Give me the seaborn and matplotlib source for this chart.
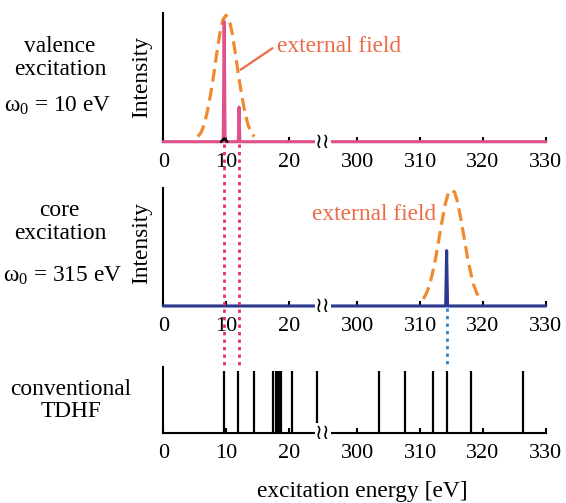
import numpy as np
import matplotlib
matplotlib.use('Agg')
import matplotlib.pyplot as plt
import seaborn as sns
from matplotlib.lines import Line2D
from matplotlib.transforms import blended_transform_factory

# ---------------- data (energies in eV) ----------------
tick_values = [0, 10, 20, 300, 310, 320, 330]
tick_labels = ['0', '10', '20', '300', '310', '320', '330']

# valence excitation spectrum (pink)
valence_x = [0, 9.55, 9.7, 9.85, 11.95, 12.07, 12.2, 330]
valence_y = [0, 0, 0.935, 0, 0, 0.27, 0, 0]
# small black bump under the main valence peak
bump_x = [9.2, 9.7, 10.2]
bump_y = [0, 0.025, 0]
# external field (valence), dashed orange
field1_x = [5.5, 6.0, 6.5, 7.0, 7.5, 8.0, 8.5, 9.0, 9.5, 10.0, 10.5, 11.0,
            11.5, 12.0, 12.5, 13.0, 13.5, 14.0, 14.5]
field1_y = [0.04, 0.07, 0.13, 0.23, 0.36, 0.51, 0.68, 0.84, 0.95, 0.985, 0.95,
            0.84, 0.68, 0.51, 0.36, 0.23, 0.13, 0.07, 0.04]

# core excitation spectrum (blue)
core_x = [0, 314.05, 314.2, 314.35, 330]
core_y = [0, 0, 0.47, 0, 0]
# external field (core), dashed orange
field2_x = [310.5, 311.0, 311.5, 312.0, 312.5, 313.0, 313.5, 314.0, 314.5, 315.0,
            315.5, 316.0, 316.5, 317.0, 317.5, 318.0, 318.5, 319.0, 319.5]
field2_y = [0.06, 0.11, 0.18, 0.29, 0.42, 0.575, 0.73, 0.87, 0.965, 0.985,
            0.965, 0.87, 0.73, 0.575, 0.42, 0.29, 0.18, 0.11, 0.06]

# conventional TDHF excitation energies
tdhf_x = [9.68, 11.96, 14.47, 17.5, 17.93, 18.25, 18.53, 18.7, 20.5, 24.47,
          303.4, 307.5, 312.1, 314.2, 318.1, 326.3]
tdhf_h = [0.94] * len(tdhf_x)

# guide lines
pink_guides = [9.7, 12.07]
blue_guides = [314.2]

# ---------------- style ----------------
sns.set_theme(style='white')
SERIF = ['Liberation Serif', 'DejaVu Serif']
plt.rcParams['font.family'] = SERIF
plt.rcParams['mathtext.fontset'] = 'custom'
plt.rcParams['mathtext.rm'] = 'Liberation Serif'
plt.rcParams['mathtext.it'] = 'Liberation Serif:italic'

PINK = '#e0508a'
ORANGE = '#f08a2e'
TXT = '#ee6a48'
NAVY = '#2b3990'
DOTPINK = '#e2306a'
DOTBLUE = '#2a86d0'


def fwd(x):
    x = np.asarray(x, dtype=float)
    return np.where(x <= 25, x,
                    np.where(x >= 295, x - 269.06, 25 + (x - 25) * 0.94 / 270))


def inv(y):
    y = np.asarray(y, dtype=float)
    return np.where(y <= 25, y,
                    np.where(y >= 25.94, y + 269.06, 25 + (y - 25) * 270 / 0.94))


fig = plt.figure(figsize=(5.66, 5.03), dpi=100)
ax1 = fig.add_axes([0.2885, 0.7183, 0.6758, 0.2553])
ax2 = fig.add_axes([0.2885, 0.3917, 0.6758, 0.2340])
ax3 = fig.add_axes([0.2885, 0.1386, 0.6758, 0.1324])

for ax in (ax1, ax2, ax3):
    ax.set_xscale('function', functions=(fwd, inv))
    ax.set_xlim(0, 330)
    ax.set_ylim(0, 1)
    ax.set_xticks(tick_values)
    ax.set_xticklabels(tick_labels, fontfamily=SERIF, fontsize=16,
                       color='black')
    ax.set_yticks([])
    for s in ('top', 'right'):
        ax.spines[s].set_visible(False)
    for s in ('left', 'bottom'):
        ax.spines[s].set_color('black')
        ax.spines[s].set_linewidth(1.5)
    ax.tick_params(axis='x', direction='in', length=3.6, width=1.5,
                   colors='black', pad=8, bottom=True)
    ax.set_facecolor('none')
    # axis break marker
    ax.text(25.47 / 61, 0, '\u2240\u2240', transform=ax.transAxes,
            ha='center', va='center', fontsize=15, family='DejaVu Sans',
            color='black', zorder=10,
            bbox=dict(boxstyle='square,pad=0.0', fc='white', ec='none'))

# panel 1: valence
sns.lineplot(x=field1_x, y=field1_y, ax=ax1, sort=False, estimator=None,
             color=ORANGE, lw=2.3, linestyle=(0, (4, 2)), clip_on=False)
sns.lineplot(x=valence_x, y=valence_y, ax=ax1, sort=False, estimator=None,
             color=PINK, lw=2.2, clip_on=False, zorder=3)
sns.lineplot(x=bump_x, y=bump_y, ax=ax1, sort=False, estimator=None,
             color='black', lw=1.8, clip_on=False, zorder=4)
ax1.annotate('external field', xy=(12.3, 0.56), xytext=(18.1, 0.70),
             textcoords='data', ha='left', va='baseline', fontsize=16.8,
             color=TXT, fontfamily=SERIF,
             arrowprops=dict(arrowstyle='-', color=TXT, lw=1.6,
                             shrinkA=1, shrinkB=0, relpos=(0, 0.55)))

# panel 2: core
sns.lineplot(x=field2_x, y=field2_y, ax=ax2, sort=False, estimator=None,
             color=ORANGE, lw=2.3, linestyle=(0, (4, 2)), clip_on=False)
sns.lineplot(x=core_x, y=core_y, ax=ax2, sort=False, estimator=None,
             color=NAVY, lw=2.2, clip_on=False, zorder=3)
fig.text(311.7 / 566, 1 - 220 / 503, 'external field', ha='left',
         va='baseline', fontsize=16.8, color=TXT, fontfamily=SERIF)

# panel 3: conventional TDHF
ax3.vlines(tdhf_x, 0, tdhf_h, color='black', lw=1.6)

# dotted guide lines across panels (x in data coords, y in figure coords)
y_top3 = ax3.get_position().y1 + 0.002
y_bot1 = ax1.get_position().y0 - 0.004
y_bot2 = ax2.get_position().y0 - 0.004
tr1 = blended_transform_factory(ax1.transData, fig.transFigure)
tr2 = blended_transform_factory(ax2.transData, fig.transFigure)
for gx in pink_guides:
    fig.add_artist(Line2D([gx, gx], [y_bot1, y_top3], transform=tr1,
                          color=DOTPINK, lw=2.0, linestyle=(0, (1.2, 1.5)),
                          zorder=5))
for gx in blue_guides:
    fig.add_artist(Line2D([gx, gx], [y_bot2, y_top3], transform=tr2,
                          color=DOTBLUE, lw=2.0, linestyle=(0, (1.2, 1.5)),
                          zorder=5))

# left descriptive labels
H = 503.0
W = 566.0


def ftxt(x, y, s, **kw):
    fig.text(x / W, 1 - y / H, s, ha='center', va=kw.pop('va', 'baseline'),
             fontsize=16.8, color='black', fontfamily=SERIF, **kw)


ftxt(141.7, 76.7, 'Intensity', rotation=90, va='center')
ftxt(141.7, 243.3, 'Intensity', rotation=90, va='center')
ftxt(60, 51.7, 'valence')
ftxt(60, 75, 'excitation')
ftxt(57.5, 111.7, r'$\mathrm{\omega_{0}}$ = 10 eV')
ftxt(59, 216, 'core')
ftxt(60, 239.3, 'excitation')
ftxt(63, 281.7, r'$\mathrm{\omega_{0}}$ = 315 eV')
ftxt(70.8, 395, 'conventional')
ftxt(70.8, 417.3, 'TDHF')
ftxt(362, 496.7, 'excitation energy [eV]')

fig.savefig('out.png', dpi=100)
